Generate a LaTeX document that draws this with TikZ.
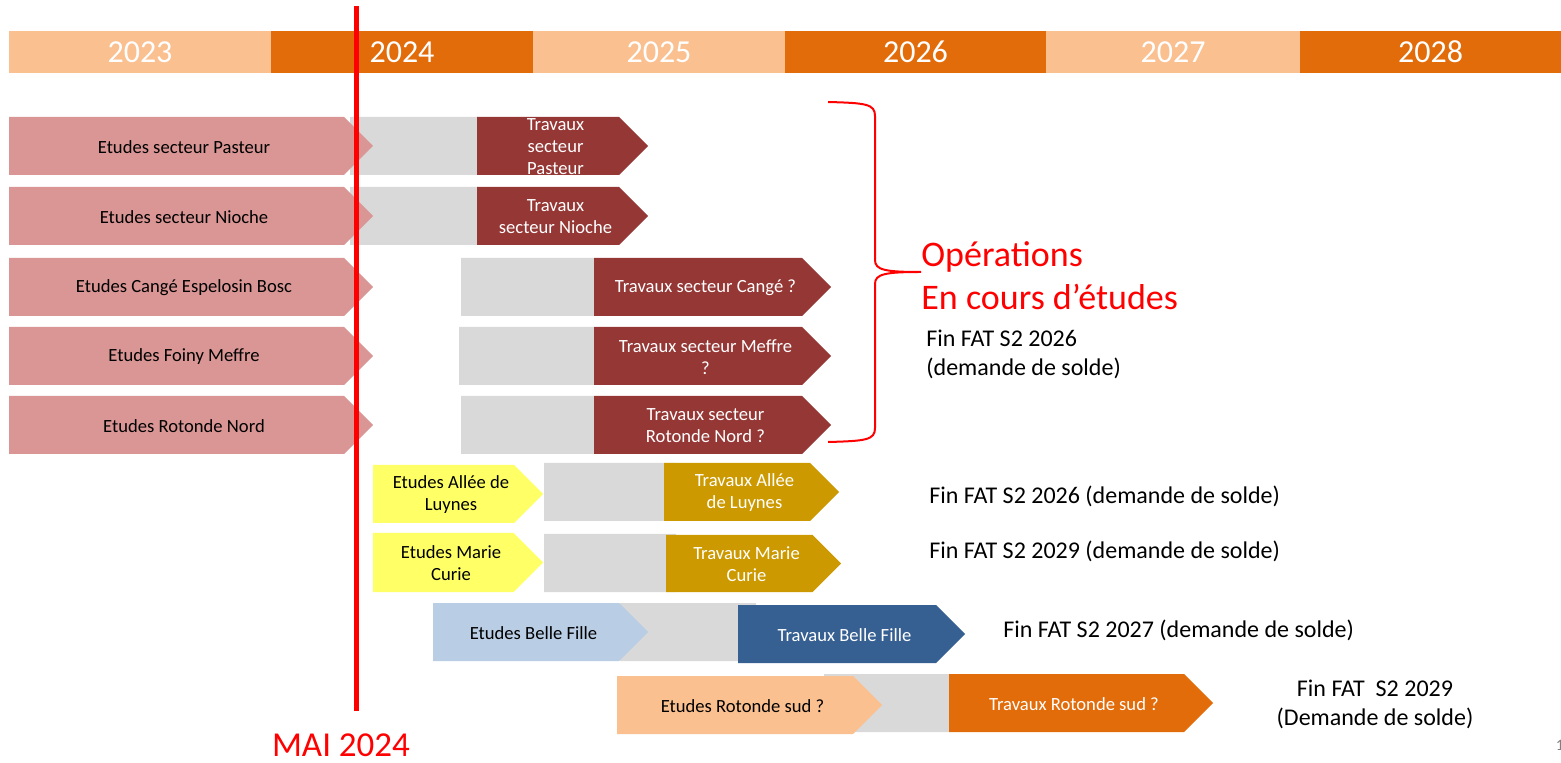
\documentclass[tikz,border=0pt]{standalone}
\usepackage{fontspec}
\setmainfont{Carlito}
\usepackage{tikz}

\definecolor{clair}{HTML}{FAC090}
\definecolor{fonce}{HTML}{E36C0A}
\definecolor{rose}{HTML}{D99694}
\definecolor{bordeaux}{HTML}{953735}
\definecolor{attente}{HTML}{D9D9D9}
\definecolor{jaune}{HTML}{FFFF66}
\definecolor{ocre}{HTML}{CC9900}
\definecolor{bleuclair}{HTML}{B9CDE5}
\definecolor{bleufonce}{HTML}{376092}
\definecolor{rouge}{HTML}{FF0000}

\tikzset{
  year/.style={text=white, font=\fontsize{16}{19}\selectfont},
  boxtxt/.style={inner sep=0pt, align=center, font=\fontsize{9.3}{11}\selectfont},
  fin/.style={inner sep=0pt, anchor=west, align=left, font=\fontsize{12}{14.5}\selectfont},
  etrose/.style={fill=rose, text=black},
  trrouge/.style={fill=bordeaux, text=white},
  etjaune/.style={fill=jaune, text=black},
  trjaune/.style={fill=ocre, text=white},
  etbleu/.style={fill=bleuclair, text=black},
  trbleu/.style={fill=bleufonce, text=white},
  etpeche/.style={fill=clair, text=black},
  trorange/.style={fill=fonce, text=white}
}

% fleche{name}{x left}{x tip}{y top}{y bottom}{style}{text}
\newcommand{\fleche}[7]{%
  \fill[#6] (#2,#4) -- ({#3-(#5-#4)/2},#4) -- (#3,{(#4+#5)/2})
        -- ({#3-(#5-#4)/2},#5) -- (#2,#5) -- cycle;
  \node[boxtxt, #6, fill=none] (#1) at ({(#2+#3)/2-7},{(#4+#5)/2+1}) {#7};
}

\begin{document}
\begin{tikzpicture}[x=0.5pt, y=-0.5pt]
      \useasboundingbox (0,0) rectangle (1561,763);

      % years
      \foreach \a/\b/\y/\c in {9/271/2023/clair, 271/533/2024/fonce, 533/785/2025/clair,
                               785/1046/2026/fonce, 1046/1300/2027/clair, 1300/1561/2028/fonce}
            \fill[\c] (\a,31) rectangle (\b,73) node [year, pos=.5] (y\y) {\y};

      % waiting periods
      \fill[attente] (350,117) rectangle (478,175)
                     (350,187) rectangle (478,245)
                     (461,258) rectangle (594,316)
                     (459,327) rectangle (594,385)
                     (461,396) rectangle (594,454)
                     (544,463) rectangle (676,521)
                     (544,534) rectangle (676,592)
                     (620,603) rectangle (756,661)
                     (824,674) rectangle (949,732);

      % studies
      \fleche{ePasteur}{9}{373}{117}{175}{etrose}{Etudes secteur Pasteur}
      \fleche{eNioche}{9}{373}{187}{245}{etrose}{Etudes secteur Nioche}
      \fleche{eCange}{9}{373}{258}{316}{etrose}{Etudes Cangé Espelosin Bosc}
      \fleche{eMeffre}{9}{373}{327}{385}{etrose}{Etudes Foiny Meffre}
      \fleche{eRotN}{9}{373}{396}{454}{etrose}{Etudes Rotonde Nord}
      \fleche{eLuynes}{373}{543}{465}{523}{etjaune}{Etudes Allée de\\Luynes}
      \fleche{eCurie}{373}{543}{533}{592}{etjaune}{Etudes Marie\\Curie}
      \fleche{eBelle}{433}{648}{603}{661}{etbleu}{Etudes Belle Fille}
      \fleche{eRotS}{617}{882}{676}{734}{etpeche}{Etudes Rotonde sud ?}

      % works
      \fleche{tPasteur}{477}{648}{117}{175}{trrouge}{Travaux\\secteur\\Pasteur}
      \fleche{tNioche}{477}{648}{187}{245}{trrouge}{Travaux\\secteur Nioche}
      \fleche{tCange}{594}{831}{258}{316}{trrouge}{Travaux secteur Cangé ?}
      \fleche{tMeffre}{594}{831}{327}{385}{trrouge}{Travaux secteur Meffre\\?}
      \fleche{tRotN}{594}{831}{396}{454}{trrouge}{Travaux secteur\\Rotonde Nord ?}
      \fleche{tLuynes}{664}{839}{463}{521}{trjaune}{Travaux Allée\\de Luynes}
      \fleche{tCurie}{666}{841}{535}{592}{trjaune}{Travaux Marie\\Curie}
      \fleche{tBelle}{738}{965}{605}{663}{trbleu}{Travaux Belle Fille}
      \fleche{tRotS}{949}{1213}{674}{732}{trorange}{Travaux Rotonde sud ?}

      % brace
      \draw[rouge, line width=1pt]
            (828,102) .. controls (866,103) and (875,104) .. (875,116) -- (875,260)
            .. controls (875,270) and (885,272) .. (921,272)
            .. controls (885,272) and (875,274) .. (875,284) -- (875,428)
            .. controls (875,440) and (866,441) .. (828,442);
      \node[inner sep=0pt, anchor=west, align=left, text=rouge,
            font=\fontsize{18}{21.6}\selectfont] (ops) at (921,276)
            {Opérations\\En cours d’études};

      % end dates
      \node[fin] (fin1) at (926,354) {Fin FAT S2 2026\\(demande de solde)};
      \node[fin] (fin2) at (929,496) {Fin FAT S2 2026 (demande de solde)};
      \node[fin] (fin3) at (929,551) {Fin FAT S2 2029 (demande de solde)};
      \node[fin] (fin4) at (1003,630) {Fin FAT S2 2027 (demande de solde)};
      \node[fin, anchor=center, align=center] (fin5) at (1375,704)
            {Fin FAT\ \ S2 2029\\(Demande de solde)};

      % today
      \coordinate (mai haut) at (356,6);
      \coordinate (mai bas) at (356,711);
      \draw[rouge, line width=2.5pt] (mai haut) -- (mai bas);
      \node[text=rouge, inner sep=0pt, font=\fontsize{17.5}{21}\selectfont] (mai) at (341,745) {MAI 2024};

      \node[text=gray, inner sep=0pt, font=\fontsize{8}{10}\selectfont] (page) at (1560,745) {1};
\end{tikzpicture}
\end{document}
